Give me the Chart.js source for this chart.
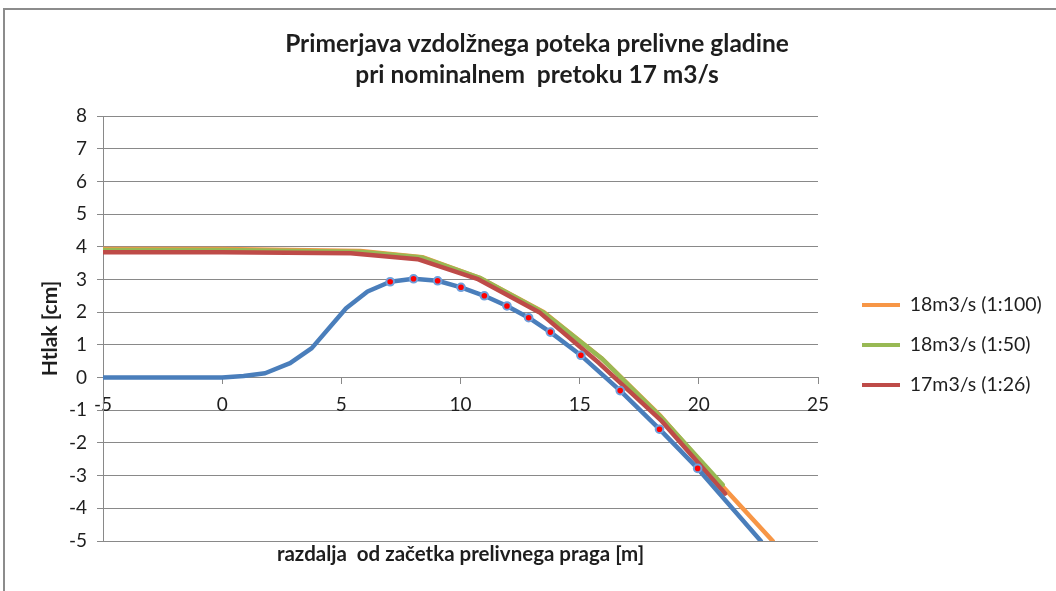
<!DOCTYPE html>
<html>
<head>
<meta charset="utf-8">
<script src="https://cdn.jsdelivr.net/npm/chart.js@4.4.1/dist/chart.umd.min.js"></script>
<style>
  html, body { margin: 0; padding: 0; background: #ffffff; }
  #wrap { width: 1056px; height: 591px; }
</style>
</head>
<body>
<div id="wrap"><canvas id="c" width="1056" height="591"></canvas></div>
<script>
// Profil prelivnega praga (modra črta)
const pragX = [-5, 0, 0.9, 1.8, 2.85, 3.76, 5.2, 6.1, 7.05, 8.03, 9.04, 10.02, 11.0, 11.95, 12.86, 13.77, 15.05, 16.7, 18.35, 19.95, 22.6];
const pragY = [0, 0, 0.05, 0.13, 0.44, 0.9, 2.12, 2.63, 2.93, 3.02, 2.96, 2.76, 2.5, 2.19, 1.83, 1.39, 0.68, -0.4, -1.58, -2.78, -5.0];

// Gladina 18 m3/s, merilo 1:100
const m100X = [-5, 0, 5.8, 8.4, 10.8, 13.5, 15.9, 18.4, 21.0, 23.1];
const m100Y = [3.93, 3.93, 3.87, 3.68, 3.05, 2.0, 0.6, -1.18, -3.33, -5.0];

// Gladina 18 m3/s, merilo 1:50
const m50X = [-5, 0, 5.8, 8.4, 10.8, 13.5, 15.9, 18.4, 21.0];
const m50Y = [3.9, 3.9, 3.85, 3.67, 3.05, 1.98, 0.6, -1.2, -3.28];

// Gladina 17 m3/s, merilo 1:26
const m26X = [-5, 0, 5.4, 8.2, 10.7, 13.3, 15.8, 18.4, 21.1];
const m26Y = [3.83, 3.83, 3.8, 3.62, 3.02, 2.0, 0.45, -1.3, -3.55];

const seriesLabels = ['18m3/s (1:100)', '18m3/s (1:50)', '17m3/s (1:26)'];
const yTicks = [-5, -4, -3, -2, -1, 0, 1, 2, 3, 4, 5, 6, 7, 8];
const xTicks = [-5, 0, 5, 10, 15, 20, 25];

const titleLines = ['Primerjava vzdolžnega poteka prelivne gladine', 'pri nominalnem  pretoku 17 m3/s'];
const xTitle = 'razdalja  od začetka prelivnega praga [m]';
const yTitle = 'Htlak [cm]';

const toPts = (xs, ys) => xs.map((x, i) => ({ x: x, y: ys[i] }));

const FONT = 'Lato, "Open Sans", sans-serif';
const GRID = '#898989';
const TEXT = '#1e1e1e';

// Okvir okoli grafa
const framePlugin = {
  id: 'frame',
  beforeDraw(chart) {
    const ctx = chart.ctx;
    ctx.save();
    ctx.strokeStyle = '#8c8c8c';
    ctx.lineWidth = 2;
    ctx.beginPath();
    ctx.moveTo(4, chart.height);
    ctx.lineTo(4, 9);
    ctx.lineTo(chart.width, 9);
    ctx.stroke();
    ctx.restore();
  }
};

// Legenda desno od območja risanja
const legendPlace = {
  id: 'legendPlace',
  afterLayout(chart) {
    const lg = chart.legend;
    if (!lg) return;
    const pad = lg.options.labels.padding;
    const fs = lg.options.labels.font.size;
    const w = lg.width;
    lg.left = chart.chartArea.right + 44 - pad;
    lg.right = lg.left + w;
    lg.top = 305 - pad - fs / 2;
    lg.bottom = lg.top + 400;
    lg.height = 400;
  }
};

new Chart(document.getElementById('c'), {
  type: 'line',
  data: {
    datasets: [
      {
        label: seriesLabels[0],
        data: toPts(m100X, m100Y),
        borderColor: '#f79646',
        backgroundColor: '#f79646',
        borderWidth: 4.5,
        pointRadius: 0,
        order: 3
      },
      {
        label: seriesLabels[1],
        data: toPts(m50X, m50Y),
        borderColor: '#98b954',
        backgroundColor: '#98b954',
        borderWidth: 4.5,
        pointRadius: 0,
        order: 2
      },
      {
        label: seriesLabels[2],
        data: toPts(m26X, m26Y),
        borderColor: '#be4b48',
        backgroundColor: '#be4b48',
        borderWidth: 4.5,
        pointRadius: 0,
        order: 1
      },
      {
        label: '',
        data: toPts(pragX, pragY),
        borderColor: '#4a7ebb',
        backgroundColor: '#ff0000',
        borderWidth: 4.5,
        pointRadius: (c) => (c.raw && c.raw.x >= 7 && c.raw.x <= 20 ? 3.8 : 0),
        pointBorderColor: '#6f9fdb',
        pointBorderWidth: 2,
        pointBackgroundColor: '#ff0000',
        order: 0
      }
    ]
  },
  options: {
    responsive: false,
    animation: false,
    devicePixelRatio: 1,
    elements: {
      line: { tension: 0, borderJoinStyle: 'round', borderCapStyle: 'round' }
    },
    layout: { padding: { left: 18, right: 0, top: 0, bottom: 0 } },
    scales: {
      x: {
        type: 'linear',
        position: 'bottom',
        min: -5,
        max: 25,
        ticks: { display: false },
        grid: { display: false },
        border: { display: false },
        title: {
          display: true,
          text: xTitle,
          color: TEXT,
          font: { family: FONT, size: 20.5, weight: 'bold' },
          padding: { top: 0, bottom: 24 }
        },
        afterFit: (s) => { s.height = 50; }
      },
      x2: {
        type: 'linear',
        axis: 'x',
        position: { y: 0 },
        min: -5,
        max: 25,
        afterBuildTicks: (s) => { s.ticks = xTicks.map(v => ({ value: v })); },
        ticks: {
          color: TEXT,
          font: { family: FONT, size: 19 },
          padding: 10,
          maxRotation: 0,
          autoSkip: false
        },
        grid: { drawOnChartArea: false, drawTicks: true, tickLength: 6, color: GRID },
        border: { display: true, color: GRID, width: 1 }
      },
      y: {
        type: 'linear',
        position: 'left',
        min: -5,
        max: 8,
        afterBuildTicks: (s) => { s.ticks = yTicks.map(v => ({ value: v })); },
        ticks: {
          color: TEXT,
          font: { family: FONT, size: 19 },
          padding: 10,
          autoSkip: false
        },
        grid: { color: GRID, tickLength: 6, drawTicks: true },
        border: { display: true, color: GRID, width: 1 },
        title: {
          display: true,
          text: yTitle,
          color: TEXT,
          font: { family: FONT, size: 21, weight: 'bold' },
          padding: { top: 19.5, bottom: 0 }
        },
        afterFit: (s) => { s.width = 85; }
      },
      yR: {
        type: 'linear',
        position: 'right',
        display: true,
        ticks: { display: false },
        grid: { display: false },
        border: { display: false },
        afterFit: (s) => { s.width = 238; }
      }
    },
    plugins: {
      title: {
        display: true,
        text: titleLines,
        color: TEXT,
        font: { family: FONT, size: 24.5, weight: 'bold', lineHeight: '31px' },
        padding: { top: 28.5, bottom: 25.5 }
      },
      legend: {
        display: true,
        position: 'chartArea',
        align: 'start',
        labels: {
          color: TEXT,
          font: { family: FONT, size: 19.5 },
          boxWidth: 38,
          boxHeight: 4,
          padding: 20.5,
          filter: (item) => item.text !== '',
          sort: (a, b) => a.datasetIndex - b.datasetIndex,
          generateLabels: (chart) => {
            const items = Chart.defaults.plugins.legend.labels.generateLabels(chart);
            return items.map(it => Object.assign(it, {
              fillStyle: chart.data.datasets[it.datasetIndex].borderColor,
              strokeStyle: chart.data.datasets[it.datasetIndex].borderColor,
              lineWidth: 0
            }));
          }
        }
      },
      tooltip: { enabled: false }
    }
  },
  plugins: [framePlugin, legendPlace]
});
</script>
</body>
</html>
